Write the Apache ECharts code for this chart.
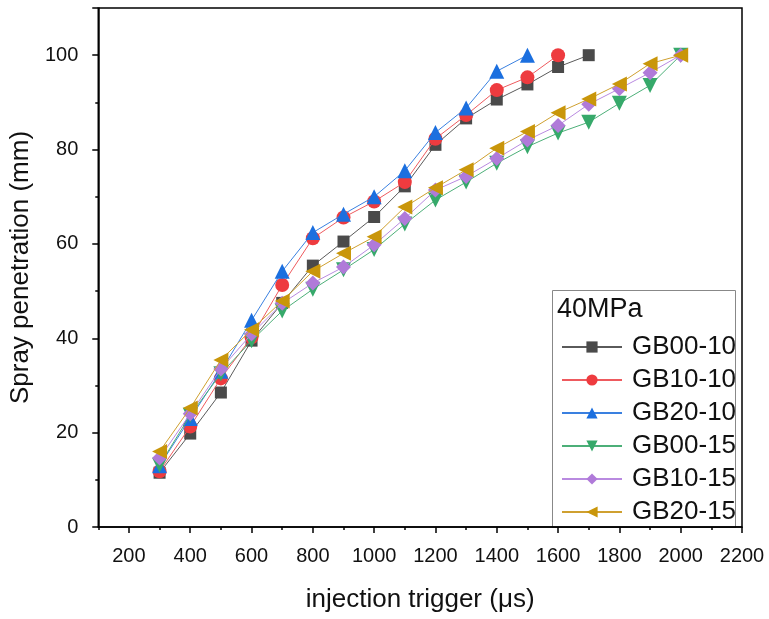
<!DOCTYPE html>
<html><head><meta charset="utf-8">
<script src="https://cdn.jsdelivr.net/npm/echarts@6/dist/echarts.min.js"></script>
<style>html,body{margin:0;padding:0;background:#fff}#c{width:769px;height:619px}</style>
</head><body><div id="c"></div>
<script>
const seriesNames = ['GB00-10','GB10-10','GB20-10','GB00-15','GB10-15','GB20-15'];
const xVals10a = [300,400,500,600,700,800,900,1000,1100,1200,1300,1400,1500,1600,1700];
const gb00_10 = [11.5,19.8,28.5,39.5,47.5,55.4,60.5,65.7,72.2,81.0,86.6,90.6,93.8,97.5,100];
const gb10_10 = [11.8,21.3,31.5,40.2,51.3,61.2,65.6,69.0,73.1,82.3,87.3,92.6,95.3,100];
const gb20_10 = [13.0,23.0,33.0,43.8,54.2,62.4,66.3,70.0,75.5,83.6,88.8,96.6,100];
const xVals15 = [300,400,500,600,700,800,900,1000,1100,1200,1300,1400,1500,1600,1700,1800,1900,2000];
const gb00_15 = [13.1,23.7,32.5,39.5,45.8,50.4,54.5,58.8,64.2,69.3,73.1,77.1,80.6,83.5,85.8,89.8,93.6,100];
const gb10_15 = [14.6,24.0,33.5,40.9,47.4,51.7,55.1,59.8,65.4,71.4,74.3,78.1,82.0,85.1,89.6,92.9,96.3,100];
const gb20_15 = [16.0,25.2,35.4,41.8,47.9,54.2,58.0,61.5,67.8,71.9,75.7,80.3,83.8,87.8,90.7,93.9,98.2,100];
const xMajorTicks = [200,400,600,800,1000,1200,1400,1600,1800,2000,2200];
const xMinorTicks = [100,300,500,700,900,1100,1300,1500,1700,1900,2100];
const legendTitle = '40MPa';
const xTitle = 'injection trigger (\u03bcs)';
const yTitle = 'Spray penetration (mm)';

const colors = ['#4a4a4a','#ee3b3f','#1b6fdf','#36a96a','#b07ad9','#c9960a'];
const lineColors = ['#5a5a5a','#ee5a5e','#3a80e0','#4caf78','#b98ae0','#cfa030'];
const symbols = ['rect','circle','triangle','triangle','diamond','triangle'];
const rotations = [0,0,0,180,0,90];
const sizes = [12,14,15,15,15,15];
const dataSets = [gb00_10,gb10_10,gb20_10,gb00_15,gb10_15,gb20_15];

function pairs(xs, ys){ return ys.map((v,i)=>[xs[i],v]); }

const chart = echarts.init(document.getElementById('c'));
const font = 'Liberation Sans, Arial, sans-serif';
chart.setOption({
  animation:false,
  grid:{left:97,right:27,top:8,bottom:92,show:true,borderColor:'#000',borderWidth:1.5,backgroundColor:'transparent'},
  xAxis:[{
    type:'value',min:100,max:2200,
    axisLine:{lineStyle:{color:'#000',width:1.5}},
    axisTick:{customValues:xMajorTicks,length:6,lineStyle:{color:'#000',width:1.5}},
    axisLabel:{customValues:xMajorTicks,color:'#111',fontSize:20,fontFamily:font,margin:19,
      formatter:v=>String(v)},
    splitLine:{show:false},
    name:xTitle,nameLocation:'middle',nameGap:60,
    nameTextStyle:{fontSize:26,fontFamily:font,color:'#111'}
  },{
    type:'value',min:100,max:2200,position:'bottom',
    axisLine:{show:false},
    axisTick:{customValues:xMinorTicks,length:3,lineStyle:{color:'#000',width:1.5}},
    axisLabel:{show:false},splitLine:{show:false}
  }],
  yAxis:{
    type:'value',min:0,max:110,interval:20,
    axisLine:{show:true,lineStyle:{color:'#000',width:1.5}},
    axisTick:{show:true,length:6,lineStyle:{color:'#000',width:1.5}},
    minorTick:{show:true,splitNumber:2,length:3,lineStyle:{color:'#000',width:1.5}},
    axisLabel:{color:'#111',fontSize:20,fontFamily:font,margin:20,
      formatter:v=> v%20===0 && v<=100 ? String(v) : ''},
    splitLine:{show:false},minorSplitLine:{show:false},
    name:yTitle,nameLocation:'middle',nameGap:59,
    nameTextStyle:{fontSize:26,fontFamily:font,color:'#111'}
  },
  legend:{
    orient:'vertical',left:556,top:329,
    itemWidth:60,itemHeight:14,itemGap:7,
    textStyle:{fontSize:26,lineHeight:26,fontFamily:font,color:'#111',padding:[0,0,0,5]},
    data:seriesNames
  },
  graphic:[
    {type:'rect',shape:{x:552.5,y:290.5,width:183,height:237},style:{fill:'#fff',stroke:'#888',lineWidth:1},z:-1},
    {type:'text',left:557,top:296,style:{text:legendTitle,fontSize:27,fontFamily:font,fill:'#111'}}
  ],
  series:dataSets.map((d,i)=>({
    name:seriesNames[i],type:'line',xAxisIndex:0,
    data:pairs(i<3?xVals10a:xVals15,d),
    symbol:symbols[i],symbolRotate:rotations[i],symbolSize:sizes[i],
    showAllSymbol:true,
    lineStyle:{color:lineColors[i],width:1},
    itemStyle:{color:colors[i]},
    z:2+i
  }))
});
</script></body></html>
